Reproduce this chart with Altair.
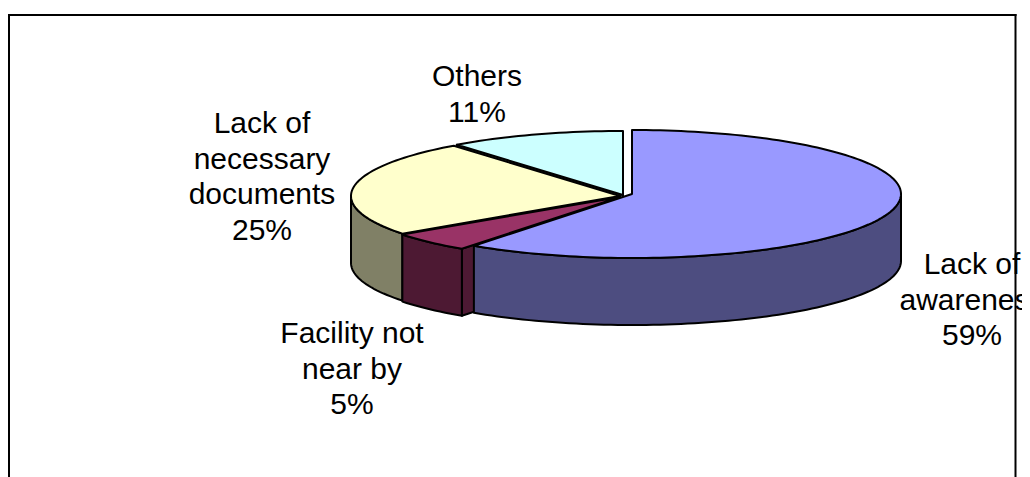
import math
import altair as alt
import pandas as pd

# Data
categories = ["Lack of awareness", "Facility not near by", "Lack of necessary documents", "Others"]
label_lines = ["Lack of\nawareness\n59%", "Facility not\nnear by\n5%", "Lack of\nnecessary\ndocuments\n25%", "Others\n11%"]
# Angular share as drawn (the 3-D view skews the slices slightly from their labels)
drawn_shares = [60.0, 5.0, 24.4, 10.6]

# Styling and layout
top_colors = ["#9999FF", "#993366", "#FFFFCC", "#CCFFFF"]
wall_colors = ["#4D4D80", "#4D1933", "#808066", "#668080"]
OX, OY = 8, 8
centers = [(632, 194), (620, 197), (620, 196), (623, 195)]
RX, RY, DEPTH = 269, 64, 67
label_xy = [(972, 250), (352, 319), (262, 109), (477, 62)]
LINE_H = 35.5
FONT_SIZE = 30


def pt(c, deg, drop=0):
    r = math.radians(deg)
    return [c[0] + RX * math.sin(r) - OX, c[1] - RY * math.cos(r) + drop - OY]


def arc(c, a, b, drop=0):
    n = max(2, int(abs(b - a) / 1.5))
    return [pt(c, a + (b - a) * i / n, drop) for i in range(n + 1)]


def feature(coords, color):
    ring = coords + [coords[0]]
    return {"type": "Feature", "geometry": {"type": "Polygon", "coordinates": [ring]},
            "properties": {"color": color}}


bounds = []
acc = 0.0
for s in drawn_shares:
    bounds.append((acc, acc + s * 3.6))
    acc += s * 3.6

features = []
# Radial cut faces (visible when turned to the viewer), back to front
for i in (3, 2, 1):
    c = centers[i]
    a = bounds[i][0]
    apex = [c[0] - OX, c[1] - OY]
    features.append(feature([apex] + [pt(c, a), pt(c, a, DEPTH)] + [[apex[0], apex[1] + DEPTH]], wall_colors[i]))
# Outer walls: only the front half of the rim
for i in (2, 1, 0):
    c = centers[i]
    a, b = max(bounds[i][0], 90), min(bounds[i][1], 270)
    if b > a:
        features.append(feature(arc(c, a, b) + arc(c, b, a, DEPTH), wall_colors[i]))
# Top faces
for i in (3, 2, 1, 0):
    c = centers[i]
    a, b = bounds[i]
    features.append(feature([[c[0] - OX, c[1] - OY]] + arc(c, a, b), top_colors[i]))

pie = alt.Chart(alt.Data(values=features)).mark_geoshape(
    stroke="black", strokeWidth=2, strokeJoin="round"
).encode(
    color=alt.Color("properties.color:N", scale=None)
).project(type="identity", scale=1, translate=[0, 0])

labels_df = pd.DataFrame({
    "category": categories,
    "label": label_lines,
    "px": [p[0] - OX for p in label_xy],
    "py": [p[1] - OY for p in label_xy],
})
labels = alt.Chart(labels_df).mark_text(
    font="Liberation Sans", fontSize=FONT_SIZE, color="black", align="center", baseline="top",
    lineBreak="\n", lineHeight=LINE_H
).encode(
    x=alt.X("px:Q", scale=None, axis=None),
    y=alt.Y("py:Q", scale=None, axis=None),
    text="label:N",
)

W, H = 1014, 469
frame_kw = dict(color="black", strokeWidth=2)
left = alt.Chart(labels_df.head(1)).mark_rule(**frame_kw).encode(x=alt.value(1), y=alt.value(6), y2=alt.value(H))
right = alt.Chart(labels_df.head(1)).mark_rule(**frame_kw).encode(x=alt.value(1007.5), y=alt.value(6), y2=alt.value(H))
top = alt.Chart(labels_df.head(1)).mark_rule(**frame_kw).encode(y=alt.value(7), x=alt.value(0), x2=alt.value(1008.5))

chart = alt.layer(pie, labels, left, right, top).properties(
    width=W, height=H, padding=0,
    autosize=alt.AutoSizeParams(type="none"),
).configure_view(stroke=None)

chart.save("out.html", embed_options={"renderer": "svg", "actions": False})
